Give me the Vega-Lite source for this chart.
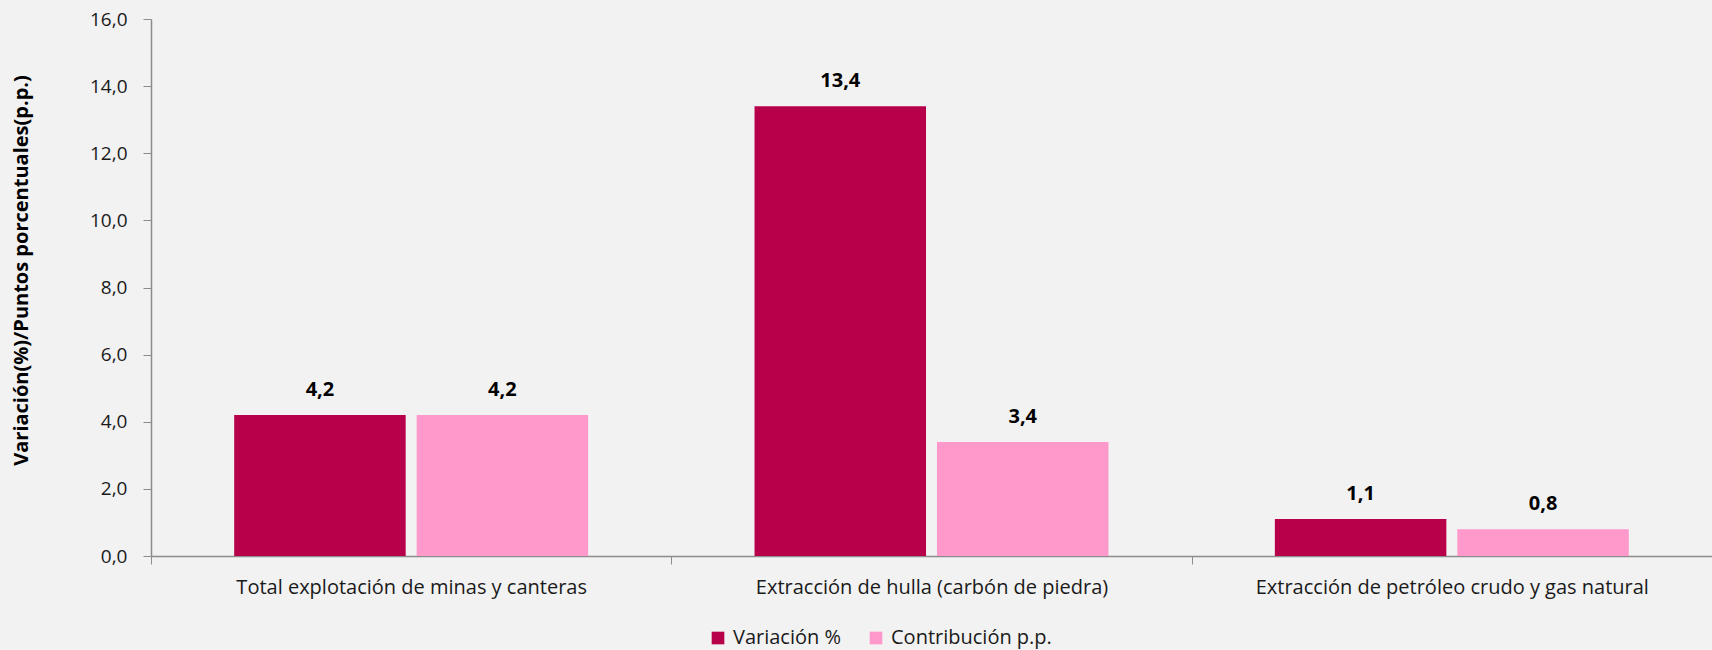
{
  "$schema": "https://vega.github.io/schema/vega-lite/v6.json",
  "width": 1561,
  "height": 537,
  "autosize": {"type": "none"},
  "padding": {"left": 151, "top": 19, "right": 0, "bottom": 94},
  "background": "#F2F2F2",
  "config": {
    "view": {"stroke": null},
    "font": "Open Sans",
    "locale": {"number": {"decimal": ",", "thousands": ".", "grouping": [3], "currency": ["", " €"]}}
  },
  "data": {
    "values": [
      {"actividad": "Total explotación de minas y canteras", "serie": "Variación %", "valor": 4.2},
      {"actividad": "Total explotación de minas y canteras", "serie": "Contribución p.p.", "valor": 4.2},
      {"actividad": "Extracción de hulla (carbón de piedra)", "serie": "Variación %", "valor": 13.4},
      {"actividad": "Extracción de hulla (carbón de piedra)", "serie": "Contribución p.p.", "valor": 3.4},
      {"actividad": "Extracción de petróleo crudo y gas natural", "serie": "Variación %", "valor": 1.1},
      {"actividad": "Extracción de petróleo crudo y gas natural", "serie": "Contribución p.p.", "valor": 0.8}
    ]
  },
  "encoding": {
    "x": {
      "field": "actividad",
      "type": "nominal",
      "sort": null,
      "scale": {"paddingInner": 0, "paddingOuter": 0},
      "axis": {
        "title": null,
        "labelAngle": 0,
        "labelFontSize": 20,
        "labelLimit": 0,
        "labelColor": "#1a1a1a",
        "labelPadding": 13,
        "domainColor": "#8c8c8c",
        "tickColor": "#8c8c8c",
        "tickSize": 8,
        "tickBand": "extent",
        "domainWidth": 1.5
      }
    },
    "xOffset": {
      "field": "serie",
      "type": "nominal",
      "sort": ["Variación %", "Contribución p.p."],
      "scale": {"paddingInner": 0.06, "paddingOuter": 0.456}
    },
    "y": {
      "field": "valor",
      "type": "quantitative",
      "scale": {"domain": [0, 16], "nice": false},
      "axis": {
        "title": "Variación(%)/Puntos porcentuales(p.p.)",
        "titleFontSize": 20,
        "titleFontWeight": "bold",
        "titleColor": "#000000",
        "titleX": -130,
        "titleY": 251,
        "titleAngle": -90,
        "titleAlign": "center",
        "titleBaseline": "middle",
        "values": [0, 2, 4, 6, 8, 10, 12, 14, 16],
        "format": ".1f",
        "grid": false,
        "labelFontSize": 19,
        "labelColor": "#1a1a1a",
        "labelPadding": 16,
        "domainColor": "#8c8c8c",
        "tickColor": "#8c8c8c",
        "tickSize": 8,
        "domainWidth": 1.5
      }
    }
  },
  "layer": [
    {
      "mark": {"type": "bar"},
      "encoding": {
        "color": {
          "field": "serie",
          "type": "nominal",
          "sort": ["Variación %", "Contribución p.p."],
          "scale": {"domain": ["Variación %", "Contribución p.p."], "range": ["#B8004A", "#FF99CC"]},
          "legend": {
            "title": null,
            "orient": "none",
            "direction": "horizontal",
            "legendX": 557,
            "legendY": 609,
            "symbolType": "square",
            "symbolSize": 160,
            "symbolStrokeWidth": 0,
            "labelFontSize": 20,
            "labelLimit": 0,
            "labelColor": "#1a1a1a",
            "labelOffset": 5,
            "columnPadding": 24
          }
        }
      }
    },
    {
      "mark": {"type": "text", "fontWeight": "bold", "fontSize": 20, "color": "#000000", "baseline": "middle", "dy": -25},
      "encoding": {
        "text": {"field": "valor", "type": "quantitative", "format": ".1f"}
      }
    }
  ]
}
